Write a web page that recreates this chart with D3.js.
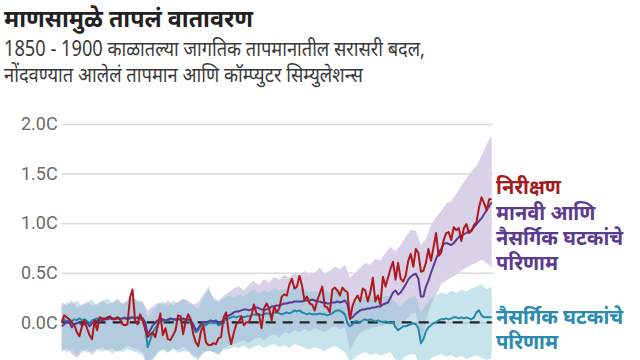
<!DOCTYPE html>
<html><head><meta charset="utf-8">
<script src="https://cdn.jsdelivr.net/npm/d3@7"></script>
<style>
html,body{margin:0;padding:0;background:#fff;}
svg{display:block;font-family:"Noto Sans","Noto Sans Devanagari",sans-serif;}
</style></head>
<body>
<svg id="c" width="640" height="360"></svg>
<script>
const startYear = 1850;
const endYear = 2020;
const yTicks = [0, 0.5, 1.0, 1.5, 2.0];

// Observed (निरीक्षण), annual 1850-2020
const observed = [
 0.00,0.07,0.05,0.03,0.00,-0.03,-0.10,-0.14,-0.04,0.02,
 -0.06,-0.13,-0.17,0.02,-0.08,0.05,0.04,0.03,0.05,0.06,
 0.04,0.03,0.05,0.04,-0.02,-0.03,-0.02,0.25,0.33,0.02,
 -0.02,0.08,0.02,-0.07,-0.15,-0.12,-0.10,-0.15,-0.03,0.09,
 -0.13,-0.06,-0.17,-0.18,-0.13,-0.08,0.07,0.06,-0.12,0.01,
 0.08,0.03,-0.12,-0.20,-0.24,-0.10,-0.03,-0.20,-0.23,-0.23,
 -0.21,-0.22,-0.16,-0.15,0.05,0.10,-0.10,-0.22,-0.11,-0.02,
 0.00,0.06,-0.03,0.00,0.00,0.07,0.18,0.09,0.08,-0.06,
 0.14,0.19,0.14,0.02,0.16,0.10,0.14,0.26,0.28,0.27,
 0.38,0.44,0.34,0.36,0.47,0.37,0.22,0.26,0.19,0.18,
 0.12,0.22,0.29,0.36,0.16,0.15,0.10,0.33,0.35,0.32,
 0.27,0.35,0.32,0.30,0.03,0.17,0.23,0.27,0.21,0.34,
 0.32,0.21,0.30,0.45,0.21,0.27,0.18,0.46,0.36,0.45,
 0.54,0.61,0.43,0.60,0.44,0.41,0.47,0.62,0.69,0.56,
 0.74,0.70,0.51,0.52,0.60,0.74,0.62,0.76,0.90,0.67,
 0.70,0.83,0.90,0.91,0.83,0.96,0.93,0.95,0.82,0.95,
 0.99,0.90,0.92,0.98,1.01,1.16,1.26,1.20,1.13,1.24,
 1.24
];

// Simulated: human + natural (मानवी आणि नैसर्गिक), annual 1850-2020
const humanNatural = [
 -0.04,-0.02,0.01,0.00,-0.05,-0.02,-0.01,0.00,-0.03,-0.02,
 0.00,-0.04,-0.01,0.01,0.02,0.03,0.02,0.03,0.03,0.04,
 0.03,0.03,0.04,0.03,0.04,0.04,0.03,0.04,0.05,0.04,
 0.05,0.04,0.04,0.00,-0.12,-0.08,-0.03,0.00,0.02,0.03,
 0.03,0.02,0.03,0.04,0.03,0.03,0.04,0.03,0.04,0.03,
 0.03,0.02,-0.02,-0.08,-0.06,-0.02,0.00,0.00,0.01,0.02,
 0.01,0.02,-0.01,0.00,0.03,0.05,0.07,0.08,0.10,0.11,
 0.11,0.12,0.13,0.13,0.12,0.13,0.14,0.15,0.14,0.13,
 0.12,0.13,0.14,0.16,0.16,0.17,0.17,0.18,0.19,0.19,
 0.20,0.20,0.21,0.21,0.21,0.21,0.22,0.22,0.22,0.23,
 0.22,0.21,0.21,0.20,0.20,0.19,0.19,0.20,0.20,0.21,
 0.20,0.21,0.22,0.18,0.04,0.05,0.08,0.10,0.12,0.13,
 0.13,0.14,0.14,0.15,0.15,0.16,0.16,0.18,0.19,0.20,
 0.25,0.30,0.32,0.28,0.30,0.34,0.38,0.43,0.46,0.48,
 0.49,0.44,0.26,0.26,0.36,0.42,0.50,0.57,0.64,0.70,
 0.74,0.79,0.80,0.79,0.78,0.80,0.83,0.86,0.87,0.89,
 0.90,0.92,0.93,0.96,0.99,1.02,1.05,1.09,1.13,1.17,
 1.21
];

// Simulated: natural only (नैसर्गिक), annual 1850-2020
const naturalOnly = [
 0.02,0.03,0.00,0.03,0.01,0.03,0.02,0.04,0.02,0.03,
 0.01,-0.01,0.02,0.03,0.04,0.03,0.04,0.04,0.03,0.05,
 0.04,0.04,0.05,0.03,0.04,0.05,0.04,0.05,0.05,0.04,
 0.04,0.03,0.02,-0.05,-0.25,-0.18,-0.10,-0.06,-0.02,0.00,
 0.02,0.01,0.02,0.03,0.03,0.02,0.03,0.02,0.03,0.02,
 0.01,0.00,-0.05,-0.10,-0.08,-0.04,-0.02,-0.03,-0.01,0.00,
 -0.01,0.00,-0.03,-0.02,0.01,0.03,0.04,0.05,0.06,0.05,
 0.06,0.06,0.05,0.06,0.06,0.07,0.08,0.07,0.08,0.07,
 0.08,0.09,0.09,0.08,0.10,0.10,0.09,0.08,0.09,0.10,
 0.09,0.10,0.12,0.11,0.12,0.10,0.09,0.08,0.09,0.08,
 0.08,0.08,0.09,0.08,0.08,0.07,0.08,0.09,0.11,0.12,
 0.12,0.10,0.08,-0.01,-0.04,-0.02,0.01,0.01,0.00,0.02,
 0.03,0.02,0.03,0.02,0.01,0.02,0.01,0.00,0.01,0.00,
 -0.01,0.00,-0.05,-0.08,-0.06,-0.04,-0.04,-0.03,-0.02,-0.01,
 -0.02,-0.06,-0.21,-0.17,-0.09,-0.05,-0.03,-0.01,0.00,0.02,
 0.03,0.03,0.04,0.03,0.04,0.05,0.05,0.04,0.05,0.04,
 0.05,0.04,0.03,0.05,0.10,0.12,0.07,0.05,0.05,0.05,
 0.05
];

// Uncertainty ranges, every 2 years 1850-2020
const bandYears = d3.range(1850, 2021, 2);
const humanNaturalHigh = [
 0.20,0.17,0.22,0.15,0.18,0.21,0.16,0.19,0.22,0.18,
 0.20,0.24,0.19,0.21,0.25,0.22,0.20,0.12,0.16,0.20,
 0.18,0.22,0.17,0.21,0.24,0.22,0.18,0.20,0.28,0.33,
 0.25,0.22,0.27,0.30,0.34,0.36,0.32,0.38,0.42,0.37,
 0.44,0.40,0.46,0.43,0.48,0.45,0.50,0.47,0.52,0.48,
 0.50,0.55,0.49,0.52,0.56,0.54,0.58,0.45,0.50,0.55,
 0.60,0.58,0.64,0.62,0.70,0.76,0.72,0.78,0.86,0.93,
 0.92,0.78,0.84,0.98,1.06,1.12,1.20,1.22,1.30,1.38,
 1.45,1.52,1.58,1.68,1.80,1.88
];
const humanNaturalLow = [
 -0.30,-0.26,-0.32,-0.36,-0.30,-0.27,-0.33,-0.28,-0.25,-0.29,
 -0.26,-0.30,-0.27,-0.24,-0.26,-0.28,-0.30,-0.42,-0.36,-0.30,
 -0.27,-0.31,-0.26,-0.28,-0.25,-0.28,-0.33,-0.36,-0.30,-0.28,
 -0.30,-0.32,-0.26,-0.24,-0.22,-0.20,-0.18,-0.21,-0.17,-0.15,
 -0.18,-0.14,-0.12,-0.15,-0.10,-0.12,-0.08,-0.10,-0.07,-0.09,
 -0.06,-0.08,-0.10,-0.06,-0.04,-0.07,-0.05,-0.28,-0.18,-0.10,
 -0.08,-0.06,-0.05,-0.04,-0.02,0.00,-0.06,-0.04,0.02,0.08,
 0.10,-0.25,0.02,0.18,0.28,0.38,0.42,0.45,0.48,0.52,
 0.55,0.58,0.60,0.63,0.60,0.55
];
const naturalHigh = [
 0.16,0.20,0.18,0.22,0.16,0.19,0.23,0.17,0.21,0.24,
 0.19,0.22,0.18,0.23,0.26,0.20,0.22,0.05,0.12,0.18,
 0.21,0.17,0.22,0.19,0.23,0.20,0.17,0.14,0.24,0.37,
 0.22,0.20,0.24,0.27,0.25,0.28,0.26,0.30,0.33,0.29,
 0.32,0.30,0.35,0.31,0.34,0.32,0.36,0.34,0.33,0.30,
 0.32,0.29,0.33,0.30,0.34,0.33,0.30,0.15,0.20,0.24,
 0.27,0.25,0.28,0.24,0.27,0.25,0.20,0.16,0.22,0.25,
 0.27,0.10,0.18,0.24,0.27,0.30,0.28,0.32,0.30,0.33,
 0.31,0.34,0.36,0.38,0.33,0.36
];
const naturalLow = [
 -0.26,-0.30,-0.28,-0.33,-0.27,-0.31,-0.29,-0.26,-0.30,-0.27,
 -0.32,-0.28,-0.30,-0.27,-0.29,-0.31,-0.33,-0.48,-0.38,-0.31,
 -0.28,-0.30,-0.27,-0.31,-0.29,-0.30,-0.35,-0.38,-0.31,-0.29,
 -0.30,-0.33,-0.28,-0.27,-0.25,-0.26,-0.24,-0.27,-0.25,-0.23,
 -0.26,-0.24,-0.22,-0.25,-0.23,-0.26,-0.22,-0.24,-0.26,-0.28,
 -0.25,-0.27,-0.29,-0.26,-0.24,-0.27,-0.30,-0.40,-0.35,-0.32,
 -0.30,-0.33,-0.31,-0.34,-0.32,-0.30,-0.38,-0.40,-0.34,-0.32,
 -0.33,-0.50,-0.42,-0.36,-0.34,-0.32,-0.35,-0.33,-0.36,-0.34,
 -0.37,-0.35,-0.33,-0.36,-0.38,-0.36
];

const title = "माणसामुळे तापलं वातावरण";
const subtitle = ["1850 - 1900 काळातल्या जागतिक तापमानातील सरासरी बदल,",
                  "नोंदवण्यात आलेलं तापमान आणि कॉम्प्युटर सिम्युलेशन्स"];
const labelObserved = ["निरीक्षण"];
const labelHumanNatural = ["मानवी आणि", "नैसर्गिक घटकांचे", "परिणाम"];
const labelNatural = ["नैसर्गिक घटकांचे", "परिणाम"];

const years = d3.range(startYear, endYear + 1);
const svg = d3.select("#c");
const x = d3.scaleLinear().domain([startYear, endYear]).range([61.7, 491.7]);
const y = d3.scaleLinear().domain([0, 2]).range([322.3, 124]);

// title
svg.append("text").attr("x", 4).attr("y", 26.5).attr("font-size", 24).attr("font-weight", 700)
  .attr("fill", "#222").attr("textLength", 249).attr("lengthAdjust", "spacingAndGlyphs").text(title);
const subW = [421, 359];
subtitle.forEach((t, i) => svg.append("text").attr("x", 4).attr("y", 56 + i * 26)
  .attr("font-size", 21).attr("fill", "#3a3a3a")
  .attr("textLength", subW[i]).attr("lengthAdjust", "spacingAndGlyphs").text(t));

// grid + axis
const axis = d3.axisLeft(y).tickValues(yTicks).tickSize(-(x.range()[1] - x.range()[0] + 1.5))
  .tickPadding(4).tickFormat(d => d.toFixed(1) + "C");
const gAxis = svg.append("g").attr("transform", `translate(${x.range()[0]},0)`).call(axis);
gAxis.select(".domain").remove();
gAxis.selectAll(".tick line").attr("stroke", "#dadada").attr("stroke-width", 1.5);
gAxis.selectAll(".tick text").attr("font-size", 18).attr("fill", "#6b6b6b")
  .attr("font-family", "Roboto, 'Noto Sans', sans-serif");

const area = (lo, hi) => d3.area().x((d, i) => x(bandYears[i])).y0((d, i) => y(lo[i])).y1((d, i) => y(hi[i]));
svg.append("path").datum(humanNaturalHigh).attr("d", area(humanNaturalLow, humanNaturalHigh))
  .attr("fill", "#d9d1e7");
svg.append("path").datum(naturalHigh).attr("d", area(naturalLow, naturalHigh))
  .attr("fill", "#82c3d4").attr("fill-opacity", 0.45);

svg.append("line").attr("x1", x(startYear)).attr("x2", x(endYear)).attr("y1", y(0)).attr("y2", y(0))
  .attr("stroke", "#222").attr("stroke-width", 2.2).attr("stroke-dasharray", "10,7");

const line = d3.line().x((d, i) => x(years[i])).y(d => y(d));
svg.append("path").datum(naturalOnly).attr("d", line).attr("fill", "none")
  .attr("stroke", "#2089a8").attr("stroke-width", 2).attr("stroke-linejoin", "round");
svg.append("path").datum(humanNatural).attr("d", line).attr("fill", "none")
  .attr("stroke", "#5a3a94").attr("stroke-width", 2).attr("stroke-linejoin", "round");
svg.append("path").datum(observed).attr("d", line).attr("fill", "none")
  .attr("stroke", "#b0181e").attr("stroke-width", 2).attr("stroke-linejoin", "round");

function label(lines, y0, color) {
  lines.forEach((t, i) => svg.append("text").attr("x", 496).attr("y", y0 + i * 25)
    .attr("font-size", 20).attr("font-weight", 700).attr("fill", color).text(t));
}
label(labelObserved, 194, "#a8191d");
label(labelHumanNatural, 220, "#5b3b8e");
label(labelNatural, 324, "#2a8bb0");
</script>
</body></html>
